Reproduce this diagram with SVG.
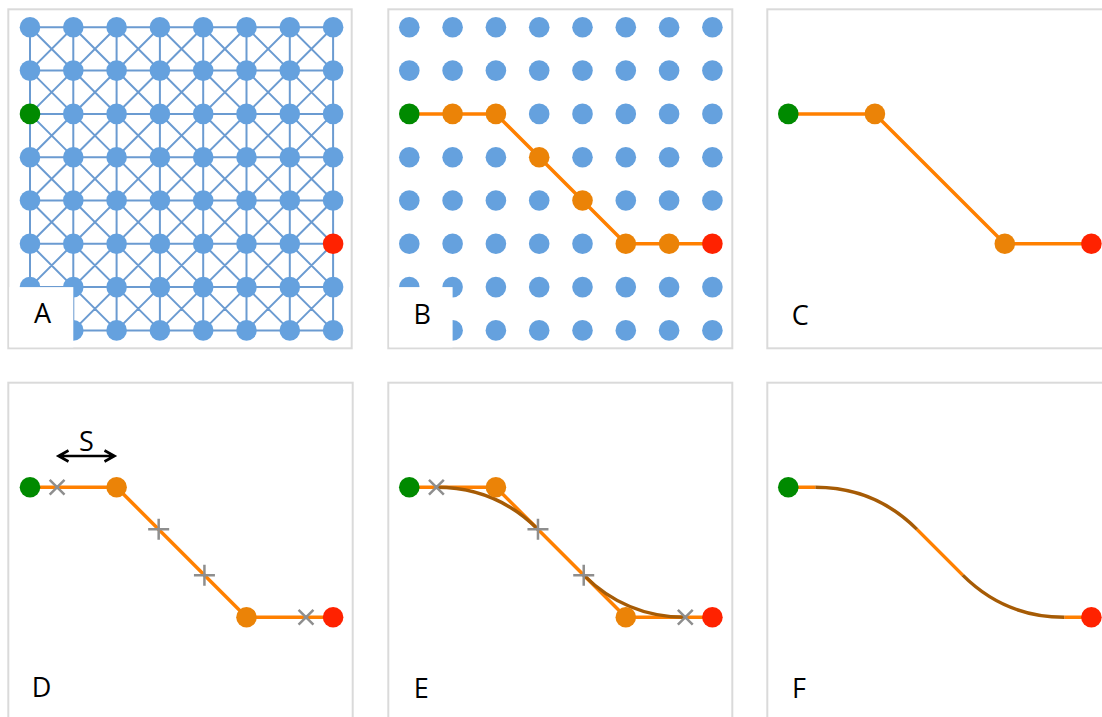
<svg xmlns="http://www.w3.org/2000/svg" xmlns:xlink="http://www.w3.org/1999/xlink" width="1102" height="717" viewBox="0 0 1102 717">
<style>
.panel{fill:#fff;stroke:#dadada;stroke-width:2}
.box{fill:#fff}
.edge{fill:none;stroke:#6b9bd1;stroke-width:2}
.b{fill:#65a1de}
.g{fill:#008a00}
.r{fill:#ff2200}
.o{fill:#eb8307}
.path{fill:none;stroke:#ff8000;stroke-width:3.5;stroke-linejoin:round}
.curve{fill:none;stroke:#a65b05;stroke-width:3.5}
.mark{fill:none;stroke:#8e8e8e;stroke-width:2.5}
.arrow{fill:none;stroke:#000;stroke-width:2.6;stroke-linejoin:miter}
.lbl{font-family:"Open Sans",sans-serif;font-size:27px;fill:#000;text-anchor:middle}
</style>
<defs>
<path id="plus" d="M-10.5,0H10.5M0,-10.5V10.5"/>
</defs>
<rect class="panel" x="8.3" y="9.3" width="343.4" height="339"/>
<rect class="panel" x="388.3" y="9.3" width="344" height="339"/>
<rect class="panel" x="767.3" y="9.3" width="344" height="339"/>
<rect class="panel" x="8.3" y="382.7" width="344.4" height="339"/>
<rect class="panel" x="388.3" y="382.7" width="344" height="339"/>
<rect class="panel" x="767.3" y="382.7" width="344" height="339"/>

<g id="connectors">
<g id="A-edges" transform="translate(30,27.3)">
<path class="edge" d="M0,0H303.1M0,43.3H303.1M0,86.6H303.1M0,129.9H303.1M0,173.2H303.1M0,216.5H303.1M0,259.8H303.1M0,303.1H303.1
M0,0V303.1M43.3,0V303.1M86.6,0V303.1M129.9,0V303.1M173.2,0V303.1M216.5,0V303.1M259.8,0V303.1M303.1,0V303.1
M0,0L303.1,303.1M43.3,0L303.1,259.8M86.6,0L303.1,216.5M129.9,0L303.1,173.2M173.2,0L303.1,129.9M216.5,0L303.1,86.6M259.8,0L303.1,43.3
M0,43.3L259.8,303.1M0,86.6L216.5,303.1M0,129.9L173.2,303.1M0,173.2L129.9,303.1M0,216.5L86.6,303.1M0,259.8L43.3,303.1
M43.3,0L0,43.3M86.6,0L0,86.6M129.9,0L0,129.9M173.2,0L0,173.2M216.5,0L0,216.5M259.8,0L0,259.8M303.1,0L0,303.1
M303.1,43.3L43.3,303.1M303.1,86.6L86.6,303.1M303.1,129.9L129.9,303.1M303.1,173.2L173.2,303.1M303.1,216.5L216.5,303.1M303.1,259.8L259.8,303.1"/>
</g>
<g id="B-path" transform="translate(409.3,27.3)">
<path class="path" d="M0,86.6H86.6L216.5,216.5H303.1"/>
</g>
<g id="C-path" transform="translate(788.3,27.3)">
<path class="path" d="M0,86.6H86.6L216.5,216.5H303.1"/>
</g>
<g id="D-path" transform="translate(30,400.7)">
<path class="path" d="M0,86.6H86.6L216.5,216.5H303.1"/>
</g>
<g id="E-path" transform="translate(409.3,400.7)">
<path class="path" d="M0,86.6H86.6L216.5,216.5H303.1"/>
<path class="curve" d="M27.1,86.6Q86.6,86.6 128.67,128.67"/>
<path class="curve" d="M174.43,174.43Q216.5,216.5 276,216.5"/>
</g>
<g id="F-path" transform="translate(788.3,400.7)">
<path class="path" d="M0,86.6H27.1M128.67,128.67L174.43,174.43M276,216.5H303.1"/>
<path class="curve" d="M27.1,86.6Q86.6,86.6 128.67,128.67"/>
<path class="curve" d="M174.43,174.43Q216.5,216.5 276,216.5"/>
</g>
</g>

<g id="markers">
<g transform="translate(30,400.7)">
<use xlink:href="#plus" class="mark" transform="translate(27.1,86.6) rotate(45)"/>
<use xlink:href="#plus" class="mark" transform="translate(128.67,128.67)"/>
<use xlink:href="#plus" class="mark" transform="translate(174.43,174.43)"/>
<use xlink:href="#plus" class="mark" transform="translate(276,216.5) rotate(45)"/>
</g>
<g transform="translate(409.3,400.7)">
<use xlink:href="#plus" class="mark" transform="translate(27.1,86.6) rotate(45)"/>
<use xlink:href="#plus" class="mark" transform="translate(128.67,128.67)"/>
<use xlink:href="#plus" class="mark" transform="translate(174.43,174.43)"/>
<use xlink:href="#plus" class="mark" transform="translate(276,216.5) rotate(45)"/>
</g>
</g>

<g id="A-nodes" transform="translate(30,27.3)">
<g id="A-0-0"><circle class="b" cx="0" cy="0" r="10.3"/></g>
<g id="A-1-0"><circle class="b" cx="43.3" cy="0" r="10.3"/></g>
<g id="A-2-0"><circle class="b" cx="86.6" cy="0" r="10.3"/></g>
<g id="A-3-0"><circle class="b" cx="129.9" cy="0" r="10.3"/></g>
<g id="A-4-0"><circle class="b" cx="173.2" cy="0" r="10.3"/></g>
<g id="A-5-0"><circle class="b" cx="216.5" cy="0" r="10.3"/></g>
<g id="A-6-0"><circle class="b" cx="259.8" cy="0" r="10.3"/></g>
<g id="A-7-0"><circle class="b" cx="303.1" cy="0" r="10.3"/></g>
<g id="A-0-1"><circle class="b" cx="0" cy="43.3" r="10.3"/></g>
<g id="A-1-1"><circle class="b" cx="43.3" cy="43.3" r="10.3"/></g>
<g id="A-2-1"><circle class="b" cx="86.6" cy="43.3" r="10.3"/></g>
<g id="A-3-1"><circle class="b" cx="129.9" cy="43.3" r="10.3"/></g>
<g id="A-4-1"><circle class="b" cx="173.2" cy="43.3" r="10.3"/></g>
<g id="A-5-1"><circle class="b" cx="216.5" cy="43.3" r="10.3"/></g>
<g id="A-6-1"><circle class="b" cx="259.8" cy="43.3" r="10.3"/></g>
<g id="A-7-1"><circle class="b" cx="303.1" cy="43.3" r="10.3"/></g>
<g id="A-0-2"><circle class="g" cx="0" cy="86.6" r="10.3"/></g>
<g id="A-1-2"><circle class="b" cx="43.3" cy="86.6" r="10.3"/></g>
<g id="A-2-2"><circle class="b" cx="86.6" cy="86.6" r="10.3"/></g>
<g id="A-3-2"><circle class="b" cx="129.9" cy="86.6" r="10.3"/></g>
<g id="A-4-2"><circle class="b" cx="173.2" cy="86.6" r="10.3"/></g>
<g id="A-5-2"><circle class="b" cx="216.5" cy="86.6" r="10.3"/></g>
<g id="A-6-2"><circle class="b" cx="259.8" cy="86.6" r="10.3"/></g>
<g id="A-7-2"><circle class="b" cx="303.1" cy="86.6" r="10.3"/></g>
<g id="A-0-3"><circle class="b" cx="0" cy="129.9" r="10.3"/></g>
<g id="A-1-3"><circle class="b" cx="43.3" cy="129.9" r="10.3"/></g>
<g id="A-2-3"><circle class="b" cx="86.6" cy="129.9" r="10.3"/></g>
<g id="A-3-3"><circle class="b" cx="129.9" cy="129.9" r="10.3"/></g>
<g id="A-4-3"><circle class="b" cx="173.2" cy="129.9" r="10.3"/></g>
<g id="A-5-3"><circle class="b" cx="216.5" cy="129.9" r="10.3"/></g>
<g id="A-6-3"><circle class="b" cx="259.8" cy="129.9" r="10.3"/></g>
<g id="A-7-3"><circle class="b" cx="303.1" cy="129.9" r="10.3"/></g>
<g id="A-0-4"><circle class="b" cx="0" cy="173.2" r="10.3"/></g>
<g id="A-1-4"><circle class="b" cx="43.3" cy="173.2" r="10.3"/></g>
<g id="A-2-4"><circle class="b" cx="86.6" cy="173.2" r="10.3"/></g>
<g id="A-3-4"><circle class="b" cx="129.9" cy="173.2" r="10.3"/></g>
<g id="A-4-4"><circle class="b" cx="173.2" cy="173.2" r="10.3"/></g>
<g id="A-5-4"><circle class="b" cx="216.5" cy="173.2" r="10.3"/></g>
<g id="A-6-4"><circle class="b" cx="259.8" cy="173.2" r="10.3"/></g>
<g id="A-7-4"><circle class="b" cx="303.1" cy="173.2" r="10.3"/></g>
<g id="A-0-5"><circle class="b" cx="0" cy="216.5" r="10.3"/></g>
<g id="A-1-5"><circle class="b" cx="43.3" cy="216.5" r="10.3"/></g>
<g id="A-2-5"><circle class="b" cx="86.6" cy="216.5" r="10.3"/></g>
<g id="A-3-5"><circle class="b" cx="129.9" cy="216.5" r="10.3"/></g>
<g id="A-4-5"><circle class="b" cx="173.2" cy="216.5" r="10.3"/></g>
<g id="A-5-5"><circle class="b" cx="216.5" cy="216.5" r="10.3"/></g>
<g id="A-6-5"><circle class="b" cx="259.8" cy="216.5" r="10.3"/></g>
<g id="A-7-5"><circle class="r" cx="303.1" cy="216.5" r="10.3"/></g>
<g id="A-0-6"><circle class="b" cx="0" cy="259.8" r="10.3"/></g>
<g id="A-1-6"><circle class="b" cx="43.3" cy="259.8" r="10.3"/></g>
<g id="A-2-6"><circle class="b" cx="86.6" cy="259.8" r="10.3"/></g>
<g id="A-3-6"><circle class="b" cx="129.9" cy="259.8" r="10.3"/></g>
<g id="A-4-6"><circle class="b" cx="173.2" cy="259.8" r="10.3"/></g>
<g id="A-5-6"><circle class="b" cx="216.5" cy="259.8" r="10.3"/></g>
<g id="A-6-6"><circle class="b" cx="259.8" cy="259.8" r="10.3"/></g>
<g id="A-7-6"><circle class="b" cx="303.1" cy="259.8" r="10.3"/></g>
<g id="A-0-7"><circle class="b" cx="0" cy="303.1" r="10.3"/></g>
<g id="A-1-7"><circle class="b" cx="43.3" cy="303.1" r="10.3"/></g>
<g id="A-2-7"><circle class="b" cx="86.6" cy="303.1" r="10.3"/></g>
<g id="A-3-7"><circle class="b" cx="129.9" cy="303.1" r="10.3"/></g>
<g id="A-4-7"><circle class="b" cx="173.2" cy="303.1" r="10.3"/></g>
<g id="A-5-7"><circle class="b" cx="216.5" cy="303.1" r="10.3"/></g>
<g id="A-6-7"><circle class="b" cx="259.8" cy="303.1" r="10.3"/></g>
<g id="A-7-7"><circle class="b" cx="303.1" cy="303.1" r="10.3"/></g>
</g>

<g id="B-nodes" transform="translate(409.3,27.3)">
<g id="B-0-0"><circle class="b" cx="0" cy="0" r="10.3"/></g>
<g id="B-1-0"><circle class="b" cx="43.3" cy="0" r="10.3"/></g>
<g id="B-2-0"><circle class="b" cx="86.6" cy="0" r="10.3"/></g>
<g id="B-3-0"><circle class="b" cx="129.9" cy="0" r="10.3"/></g>
<g id="B-4-0"><circle class="b" cx="173.2" cy="0" r="10.3"/></g>
<g id="B-5-0"><circle class="b" cx="216.5" cy="0" r="10.3"/></g>
<g id="B-6-0"><circle class="b" cx="259.8" cy="0" r="10.3"/></g>
<g id="B-7-0"><circle class="b" cx="303.1" cy="0" r="10.3"/></g>
<g id="B-0-1"><circle class="b" cx="0" cy="43.3" r="10.3"/></g>
<g id="B-1-1"><circle class="b" cx="43.3" cy="43.3" r="10.3"/></g>
<g id="B-2-1"><circle class="b" cx="86.6" cy="43.3" r="10.3"/></g>
<g id="B-3-1"><circle class="b" cx="129.9" cy="43.3" r="10.3"/></g>
<g id="B-4-1"><circle class="b" cx="173.2" cy="43.3" r="10.3"/></g>
<g id="B-5-1"><circle class="b" cx="216.5" cy="43.3" r="10.3"/></g>
<g id="B-6-1"><circle class="b" cx="259.8" cy="43.3" r="10.3"/></g>
<g id="B-7-1"><circle class="b" cx="303.1" cy="43.3" r="10.3"/></g>
<g id="B-0-2"><circle class="g" cx="0" cy="86.6" r="10.3"/></g>
<g id="B-1-2"><circle class="o" cx="43.3" cy="86.6" r="10.3"/></g>
<g id="B-2-2"><circle class="o" cx="86.6" cy="86.6" r="10.3"/></g>
<g id="B-3-2"><circle class="b" cx="129.9" cy="86.6" r="10.3"/></g>
<g id="B-4-2"><circle class="b" cx="173.2" cy="86.6" r="10.3"/></g>
<g id="B-5-2"><circle class="b" cx="216.5" cy="86.6" r="10.3"/></g>
<g id="B-6-2"><circle class="b" cx="259.8" cy="86.6" r="10.3"/></g>
<g id="B-7-2"><circle class="b" cx="303.1" cy="86.6" r="10.3"/></g>
<g id="B-0-3"><circle class="b" cx="0" cy="129.9" r="10.3"/></g>
<g id="B-1-3"><circle class="b" cx="43.3" cy="129.9" r="10.3"/></g>
<g id="B-2-3"><circle class="b" cx="86.6" cy="129.9" r="10.3"/></g>
<g id="B-3-3"><circle class="o" cx="129.9" cy="129.9" r="10.3"/></g>
<g id="B-4-3"><circle class="b" cx="173.2" cy="129.9" r="10.3"/></g>
<g id="B-5-3"><circle class="b" cx="216.5" cy="129.9" r="10.3"/></g>
<g id="B-6-3"><circle class="b" cx="259.8" cy="129.9" r="10.3"/></g>
<g id="B-7-3"><circle class="b" cx="303.1" cy="129.9" r="10.3"/></g>
<g id="B-0-4"><circle class="b" cx="0" cy="173.2" r="10.3"/></g>
<g id="B-1-4"><circle class="b" cx="43.3" cy="173.2" r="10.3"/></g>
<g id="B-2-4"><circle class="b" cx="86.6" cy="173.2" r="10.3"/></g>
<g id="B-3-4"><circle class="b" cx="129.9" cy="173.2" r="10.3"/></g>
<g id="B-4-4"><circle class="o" cx="173.2" cy="173.2" r="10.3"/></g>
<g id="B-5-4"><circle class="b" cx="216.5" cy="173.2" r="10.3"/></g>
<g id="B-6-4"><circle class="b" cx="259.8" cy="173.2" r="10.3"/></g>
<g id="B-7-4"><circle class="b" cx="303.1" cy="173.2" r="10.3"/></g>
<g id="B-0-5"><circle class="b" cx="0" cy="216.5" r="10.3"/></g>
<g id="B-1-5"><circle class="b" cx="43.3" cy="216.5" r="10.3"/></g>
<g id="B-2-5"><circle class="b" cx="86.6" cy="216.5" r="10.3"/></g>
<g id="B-3-5"><circle class="b" cx="129.9" cy="216.5" r="10.3"/></g>
<g id="B-4-5"><circle class="b" cx="173.2" cy="216.5" r="10.3"/></g>
<g id="B-5-5"><circle class="o" cx="216.5" cy="216.5" r="10.3"/></g>
<g id="B-6-5"><circle class="o" cx="259.8" cy="216.5" r="10.3"/></g>
<g id="B-7-5"><circle class="r" cx="303.1" cy="216.5" r="10.3"/></g>
<g id="B-0-6"><circle class="b" cx="0" cy="259.8" r="10.3"/></g>
<g id="B-1-6"><circle class="b" cx="43.3" cy="259.8" r="10.3"/></g>
<g id="B-2-6"><circle class="b" cx="86.6" cy="259.8" r="10.3"/></g>
<g id="B-3-6"><circle class="b" cx="129.9" cy="259.8" r="10.3"/></g>
<g id="B-4-6"><circle class="b" cx="173.2" cy="259.8" r="10.3"/></g>
<g id="B-5-6"><circle class="b" cx="216.5" cy="259.8" r="10.3"/></g>
<g id="B-6-6"><circle class="b" cx="259.8" cy="259.8" r="10.3"/></g>
<g id="B-7-6"><circle class="b" cx="303.1" cy="259.8" r="10.3"/></g>
<g id="B-0-7"><circle class="b" cx="0" cy="303.1" r="10.3"/></g>
<g id="B-1-7"><circle class="b" cx="43.3" cy="303.1" r="10.3"/></g>
<g id="B-2-7"><circle class="b" cx="86.6" cy="303.1" r="10.3"/></g>
<g id="B-3-7"><circle class="b" cx="129.9" cy="303.1" r="10.3"/></g>
<g id="B-4-7"><circle class="b" cx="173.2" cy="303.1" r="10.3"/></g>
<g id="B-5-7"><circle class="b" cx="216.5" cy="303.1" r="10.3"/></g>
<g id="B-6-7"><circle class="b" cx="259.8" cy="303.1" r="10.3"/></g>
<g id="B-7-7"><circle class="b" cx="303.1" cy="303.1" r="10.3"/></g>
</g>

<g id="C-nodes" transform="translate(788.3,27.3)">
<g id="C-start"><circle class="g" cx="0" cy="86.6" r="10.3"/></g>
<g id="C-w1"><circle class="o" cx="86.6" cy="86.6" r="10.3"/></g>
<g id="C-w2"><circle class="o" cx="216.5" cy="216.5" r="10.3"/></g>
<g id="C-goal"><circle class="r" cx="303.1" cy="216.5" r="10.3"/></g>
</g>
<g id="D-nodes" transform="translate(30,400.7)">
<g id="D-start"><circle class="g" cx="0" cy="86.6" r="10.3"/></g>
<g id="D-w1"><circle class="o" cx="86.6" cy="86.6" r="10.3"/></g>
<g id="D-w2"><circle class="o" cx="216.5" cy="216.5" r="10.3"/></g>
<g id="D-goal"><circle class="r" cx="303.1" cy="216.5" r="10.3"/></g>
</g>
<g id="E-nodes" transform="translate(409.3,400.7)">
<g id="E-start"><circle class="g" cx="0" cy="86.6" r="10.3"/></g>
<g id="E-w1"><circle class="o" cx="86.6" cy="86.6" r="10.3"/></g>
<g id="E-w2"><circle class="o" cx="216.5" cy="216.5" r="10.3"/></g>
<g id="E-goal"><circle class="r" cx="303.1" cy="216.5" r="10.3"/></g>
</g>
<g id="F-nodes" transform="translate(788.3,400.7)">
<g id="F-start"><circle class="g" cx="0" cy="86.6" r="10.3"/></g>
<g id="F-goal"><circle class="r" cx="303.1" cy="216.5" r="10.3"/></g>
</g>

<g id="S-arrow">
<path class="arrow" d="M59,456H114.5M68.5,450.5L58.5,456L68.5,461.5M104.5,450.5L114.5,456L104.5,461.5"/>
<text class="lbl" x="86.3" y="450.7">S</text>
</g>

<rect class="box" x="9.3" y="287.1" width="64" height="60.2"/>
<rect class="box" x="389.3" y="287.1" width="63.3" height="60.2"/>

<g id="labels">
<text class="lbl" x="42.5" y="323.3">A</text>
<text class="lbl" x="422.3" y="324">B</text>
<text class="lbl" x="800.3" y="325">C</text>
<text class="lbl" x="41.5" y="697.3">D</text>
<text class="lbl" x="421.3" y="698">E</text>
<text class="lbl" x="799" y="698">F</text>
</g>
</svg>
